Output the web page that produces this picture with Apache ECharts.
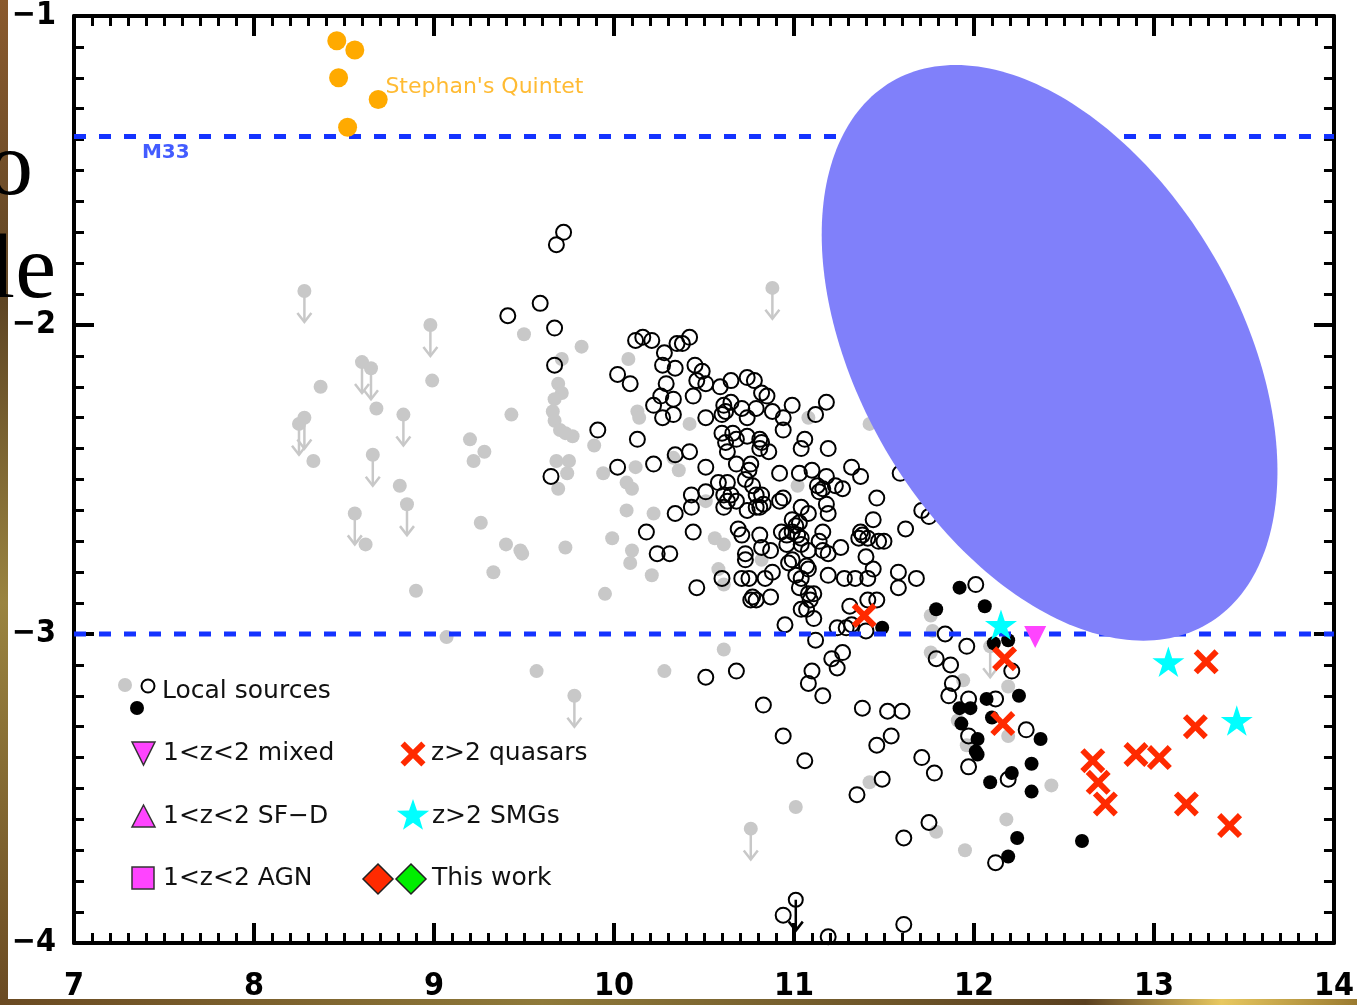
<!DOCTYPE html>
<html>
<head>
<meta charset="utf-8">
<script src="https://cdn.jsdelivr.net/npm/echarts@6/dist/echarts.min.js"></script>
<style>
  html, body { margin: 0; padding: 0; background: #ffffff; }
  #chart { width: 1357px; height: 1005px; }
</style>
</head>
<body>
<div id="chart"></div>
<script>
// ---- axis ranges and ticks ----
const xRange = [7, 14];
const yRange = [-4, -1];

// ---- reference levels (horizontal dashed lines) ----
const m33Level = -1.39;
const lowLevel = -3.0;

// ---- local sources: grey detections ----
const localGrey = [
  [9.50,-2.03],[9.82,-2.07],[9.71,-2.11],[9.69,-2.19],[9.71,-2.22],[9.67,-2.24],[9.66,-2.28],[9.67,-2.31],
  [9.70,-2.34],[9.73,-2.35],[9.77,-2.36],[8.37,-2.20],[8.99,-2.18],[8.68,-2.27],[9.43,-2.29],[9.20,-2.37],
  [9.28,-2.41],[9.22,-2.44],[9.89,-2.39],[8.33,-2.44],[9.68,-2.44],[9.75,-2.44],[9.74,-2.48],[9.69,-2.53],
  [9.94,-2.48],[8.81,-2.52],[9.26,-2.64],[9.99,-2.69],[8.62,-2.71],[9.40,-2.71],[9.48,-2.73],[9.49,-2.74],
  [9.73,-2.72],[9.33,-2.80],[8.90,-2.86],[9.95,-2.87],
  [10.08,-2.11],[10.13,-2.28],[10.14,-2.30],[10.42,-2.32],[10.33,-2.43],[10.07,-2.51],[10.10,-2.53],[10.12,-2.46],
  [10.36,-2.47],[10.07,-2.60],[10.22,-2.61],[10.51,-2.57],[10.10,-2.73],[10.09,-2.77],[10.21,-2.81],[10.56,-2.69],
  [10.61,-2.71],[10.58,-2.79],[10.61,-2.84],[10.82,-2.76],[11.02,-2.52],[11.08,-2.30],[11.42,-2.32],
  [10.61,-3.05],[10.28,-3.12],[11.42,-3.48],[11.01,-3.56],[11.79,-3.64],[11.95,-3.70],[11.76,-2.94],[11.77,-2.99],
  [11.76,-3.06],[11.94,-3.15],[12.19,-3.17],[11.91,-3.28],[11.96,-3.36],[12.19,-3.33],[12.43,-3.49],[12.18,-3.60],
  [9.07,-3.01],[9.57,-3.12]
];

// ---- local sources: grey upper limits ----
const localGreyLimits = [
  [8.28,-1.89],[8.98,-2.00],[8.60,-2.12],[8.65,-2.14],[8.25,-2.32],[8.28,-2.30],[8.83,-2.29],[8.66,-2.42],
  [8.85,-2.58],[8.56,-2.61],[10.88,-1.88],[9.78,-3.20],[10.76,-3.63],[12.09,-3.04]
];

// ---- local sources: open circles ----
const localOpen = [
  [9.72,-1.70],[9.68,-1.74],[9.59,-1.93],[9.41,-1.97],[9.67,-2.01],[9.67,-2.13],[10.02,-2.16],[9.91,-2.34],[10.02,-2.46],[9.65,-2.49],
  [10.12,-2.05],[10.16,-2.04],[10.21,-2.05],[10.35,-2.06],[10.38,-2.06],[10.42,-2.04],[10.28,-2.09],[10.27,-2.13],[10.34,-2.14],
  [10.09,-2.19],[10.45,-2.13],[10.49,-2.15],[10.46,-2.18],[10.51,-2.19],[10.29,-2.19],[10.26,-2.23],[10.22,-2.26],[10.33,-2.24],
  [10.33,-2.29],[10.27,-2.30],[10.44,-2.23],
  [10.59,-2.20],[10.65,-2.18],[10.74,-2.17],[10.78,-2.18],[10.82,-2.22],[10.85,-2.23],[10.61,-2.26],[10.62,-2.28],[10.65,-2.25],
  [10.60,-2.29],[10.71,-2.27],[10.74,-2.30],[10.79,-2.27],[10.88,-2.28],[10.94,-2.30],[10.94,-2.34],[10.99,-2.26],[11.18,-2.25],[11.12,-2.29],
  [10.13,-2.37],[10.51,-2.30],[10.60,-2.35],[10.66,-2.35],[10.68,-2.37],[10.74,-2.36],[10.62,-2.38],[10.63,-2.41],[10.81,-2.37],
  [10.82,-2.38],[10.81,-2.40],[10.86,-2.41],[11.06,-2.37],[11.04,-2.40],[11.19,-2.40],
  [10.22,-2.45],[10.34,-2.42],[10.42,-2.41],[10.51,-2.46],[10.68,-2.45],[10.76,-2.45],[10.75,-2.47],[10.92,-2.48],[11.03,-2.48],
  [11.10,-2.47],[11.18,-2.49],[11.32,-2.46],[11.37,-2.49],[11.59,-2.48],
  [10.58,-2.51],[10.63,-2.51],[10.73,-2.50],[10.77,-2.52],[11.13,-2.52],[11.16,-2.53],[11.14,-2.54],[11.23,-2.52],[11.27,-2.53],
  [10.43,-2.55],[10.51,-2.54],[10.61,-2.55],[10.65,-2.55],[10.63,-2.57],[10.68,-2.57],[10.79,-2.55],[10.82,-2.55],[10.83,-2.58],
  [10.79,-2.59],[10.81,-2.59],[10.92,-2.57],[10.94,-2.56],[11.04,-2.59],[11.18,-2.58],[11.46,-2.56],[10.61,-2.59],[10.43,-2.59],
  [10.34,-2.61],[10.74,-2.60],[11.08,-2.61],[11.19,-2.61],[11.44,-2.63],[10.99,-2.63],[11.01,-2.65],[11.03,-2.64],[10.99,-2.67],[11.02,-2.68],
  [10.18,-2.67],[10.44,-2.67],[10.69,-2.66],[10.71,-2.68],[10.93,-2.67],[10.96,-2.68],[10.81,-2.68],[11.04,-2.69],[11.16,-2.67],
  [11.37,-2.67],[11.38,-2.68],[11.41,-2.69],[11.36,-2.69],[11.47,-2.70],[11.50,-2.70],[11.62,-2.66],
  [10.24,-2.74],[10.31,-2.74],[10.82,-2.72],[10.87,-2.73],[10.96,-2.71],[11.04,-2.71],[11.08,-2.73],[11.14,-2.70],[11.16,-2.73],
  [11.26,-2.72],[10.73,-2.74],[10.73,-2.76],[10.99,-2.76],[10.97,-2.77],[11.07,-2.78],[11.08,-2.79],[11.19,-2.74],[11.40,-2.75],[11.44,-2.79],
  [10.60,-2.82],[10.71,-2.82],[10.75,-2.82],[10.84,-2.82],[10.88,-2.80],[11.01,-2.81],[11.04,-2.82],[11.19,-2.81],[11.28,-2.82],
  [11.34,-2.82],[11.41,-2.82],[11.58,-2.80],[11.58,-2.85],
  [10.46,-2.85],[10.77,-2.88],[10.76,-2.89],[10.79,-2.89],[10.87,-2.88],[11.03,-2.85],[11.08,-2.87],[11.11,-2.87],[11.09,-2.89],
  [11.04,-2.92],[11.07,-2.92],[11.31,-2.91],[11.41,-2.89],[11.46,-2.89],
  [10.95,-2.97],[11.11,-2.95],[11.24,-2.98],[11.29,-2.98],[11.32,-2.97],
  [12.01,-2.84],[11.12,-3.02],[11.40,-2.99],[11.84,-3.00],[11.96,-3.04],[11.27,-3.06],[11.21,-3.08],[11.24,-3.11],[11.79,-3.08],
  [11.87,-3.10],[10.51,-3.14],[10.68,-3.12],[11.10,-3.12],[11.08,-3.16],[11.16,-3.20],[11.88,-3.16],[11.86,-3.20],[10.83,-3.23],
  [11.38,-3.24],[11.52,-3.25],[11.60,-3.25],[11.97,-3.21],
  [10.94,-3.33],[11.54,-3.33],[11.46,-3.36],[11.97,-3.33],[11.06,-3.41],[11.71,-3.40],[11.78,-3.45],[11.97,-3.43],[11.49,-3.47],
  [11.35,-3.52],[11.75,-3.61],[11.61,-3.66],[12.12,-3.74],[10.94,-3.91],[11.61,-3.94],[11.19,-3.98],
  [11.71,-2.60],[11.75,-2.62],[11.68,-2.82],[12.12,-3.21],[12.21,-3.12],[12.29,-3.31],[12.19,-3.47]
];

// ---- local sources: open-circle upper limit ----
const localOpenLimits = [[11.01,-3.86]];

// ---- local sources: filled black ----
const localBlack = [
  [11.92,-2.85],[11.79,-2.92],[12.06,-2.91],[11.49,-2.98],[12.11,-3.03],[12.19,-3.02],[12.25,-3.20],[12.07,-3.21],
  [11.92,-3.24],[11.98,-3.24],[12.10,-3.27],[11.93,-3.29],[12.02,-3.34],[12.37,-3.34],[12.01,-3.38],[12.02,-3.39],
  [12.32,-3.42],[12.09,-3.48],[12.21,-3.45],[12.32,-3.51],[12.24,-3.66],[12.19,-3.72],[12.60,-3.67]
];

// ---- high-redshift samples ----
const quasars = [
  [11.39,-2.94],[12.17,-3.08],[12.16,-3.29],[13.29,-3.09],[13.23,-3.30],[12.66,-3.41],[12.90,-3.39],[13.03,-3.40],
  [12.69,-3.48],[12.73,-3.55],[13.18,-3.55],[13.42,-3.62]
];
const smgs = [[12.15,-2.97],[13.08,-3.09],[13.46,-3.28]];
const mixed = [[12.34,-3.01]];
const stephansQuintet = [[8.46,-1.08],[8.56,-1.11],[8.47,-1.20],[8.69,-1.27],[8.52,-1.36]];

// ---- shaded ellipse: centre and conjugate semi-axes (data units) ----
const ellipseCentre = [12.42, -2.09];
const ellipseAxisU = [0.876, -0.878];
const ellipseAxisV = [-0.914, -0.311];

// length of upper-limit arrows (dex)
const arrowDex = 0.1;

const crossPath = 'path://M0,4 L4,0 L12,8 L20,0 L24,4 L16,12 L24,20 L20,24 L12,16 L4,24 L0,20 L8,12 Z';
const starPath = 'path://M50,0 L61.2,34.5 L97.6,34.5 L68.2,55.9 L79.4,90.5 L50,69.1 L20.6,90.5 L31.8,55.9 L2.4,34.5 L38.8,34.5 Z';

const tickFont = '"DejaVu Sans Condensed", "DejaVu Sans", sans-serif';
const textFont = '"DejaVu Sans", sans-serif';

function limitRenderer(arrowColor, circleStyle) {
  return function (params, api) {
    const p = api.coord([api.value(0), api.value(1)]);
    const tip = api.coord([api.value(0), api.value(1) - arrowDex]);
    return {
      type: 'group',
      children: [
        { type: 'line', shape: { x1: p[0], y1: p[1], x2: tip[0], y2: tip[1] },
          style: { stroke: arrowColor, lineWidth: 2.5 } },
        { type: 'polyline', shape: { points: [[tip[0] - 7, tip[1] - 9], [tip[0], tip[1]], [tip[0] + 7, tip[1] - 9]] },
          style: { stroke: arrowColor, lineWidth: 2.5, fill: null } },
        { type: 'circle', shape: { cx: p[0], cy: p[1], r: 7 }, style: circleStyle }
      ]
    };
  };
}

function axisCommon(showLabel) {
  return {
    axisLine: { show: true, onZero: false, lineStyle: { color: '#000', width: 4 } },
    axisTick: { show: true, inside: true, length: 20, lineStyle: { color: '#000', width: 4 } },
    minorTick: { show: true, splitNumber: 10, length: 10, lineStyle: { color: '#000', width: 3 } },
    splitLine: { show: false },
    minorSplitLine: { show: false },
    axisLabel: { show: showLabel }
  };
}

// ---- legend drawing helpers (pixel layout) ----
function crossPoints(cx, cy, s) {
  const raw = [[0,4],[4,0],[12,8],[20,0],[24,4],[16,12],[24,20],[20,24],[12,16],[4,24],[0,20],[8,12]];
  return raw.map(p => [cx + (p[0] - 12) * s / 24, cy + (p[1] - 12) * s / 24]);
}
function starPoints(cx, cy, R) {
  const pts = [];
  for (let i = 0; i < 10; i++) {
    const r = i % 2 === 0 ? R : R * 0.4;
    const a = -Math.PI / 2 + i * Math.PI / 5;
    pts.push([cx + r * Math.cos(a), cy + r * Math.sin(a)]);
  }
  return pts;
}
function legendText(txt, x, y) {
  return { type: 'text', x: x, y: y, z: 100,
    style: { text: txt, font: '25px ' + textFont, fill: '#111',
      textAlign: 'left', align: 'left', textVerticalAlign: 'middle', verticalAlign: 'middle' } };
}
function diamond(cx, cy, h) { return [[cx, cy - h], [cx + h, cy], [cx, cy + h], [cx - h, cy]]; }

const legendGraphics = [
  { type: 'circle', z: 100, shape: { cx: 125, cy: 685, r: 7 }, style: { fill: '#c8c8c8' } },
  { type: 'circle', z: 100, shape: { cx: 148, cy: 686, r: 6.5 }, style: { fill: null, stroke: '#000', lineWidth: 2 } },
  { type: 'circle', z: 100, shape: { cx: 137, cy: 708, r: 7 }, style: { fill: '#000' } },
  legendText('Local sources', 162, 691),
  { type: 'polygon', z: 100, shape: { points: [[132, 742], [155, 742], [143.5, 765]] }, style: { fill: '#ff44ff', stroke: '#333', lineWidth: 1.5 } },
  legendText('1<z<2 mixed', 163, 753),
  { type: 'polygon', z: 100, shape: { points: [[132, 827], [155, 827], [143.5, 805]] }, style: { fill: '#ff44ff', stroke: '#333', lineWidth: 1.5 } },
  legendText('1<z<2 SF\u2212D', 163, 816),
  { type: 'rect', z: 100, shape: { x: 132, y: 867, width: 22, height: 22 }, style: { fill: '#ff44ff', stroke: '#333', lineWidth: 1.5 } },
  legendText('1<z<2 AGN', 163, 878),
  { type: 'polygon', z: 100, shape: { points: crossPoints(413, 754, 25) }, style: { fill: '#ff2a00' } },
  legendText('z>2 quasars', 431, 753),
  { type: 'polygon', z: 100, shape: { points: starPoints(413, 816, 17) }, style: { fill: '#00ffff' } },
  legendText('z>2 SMGs', 432, 816),
  { type: 'polygon', z: 100, shape: { points: diamond(378, 879, 15) }, style: { fill: '#ff2a00', stroke: '#222', lineWidth: 1.5 } },
  { type: 'polygon', z: 100, shape: { points: diamond(411, 879, 15) }, style: { fill: '#00ee00', stroke: '#222', lineWidth: 1.5 } },
  legendText('This work', 432, 878)
];

// ---- surrounding slide fragments ----
const frameGraphics = [
  { type: 'rect', z: 0, shape: { x: 0, y: 0, width: 8, height: 1005 },
    style: { fill: new echarts.graphic.LinearGradient(0, 0, 0, 1, [
      { offset: 0, color: '#8a5a2e' }, { offset: 0.3, color: '#5e4524' },
      { offset: 0.6, color: '#9a8440' }, { offset: 1, color: '#6a4a22' }]) } },
  { type: 'rect', z: 0, shape: { x: 0, y: 999, width: 1357, height: 6 },
    style: { fill: new echarts.graphic.LinearGradient(0, 0, 1, 0, [
      { offset: 0, color: '#6a4a22' }, { offset: 0.4, color: '#8f7a3a' },
      { offset: 0.8, color: '#5a4020' }, { offset: 0.9, color: '#e8c860' }, { offset: 1, color: '#9a7a30' }]) } },
  { type: 'text', z: 100, x: 33, y: 216,
    style: { text: 'o', font: '92px "Liberation Serif", "DejaVu Serif", serif', fill: '#000',
      textAlign: 'right', align: 'right', textVerticalAlign: 'bottom', verticalAlign: 'bottom' } },
  { type: 'text', z: 100, x: 56, y: 319,
    style: { text: 'le', font: '92px "Liberation Serif", "DejaVu Serif", serif', fill: '#000',
      textAlign: 'right', align: 'right', textVerticalAlign: 'bottom', verticalAlign: 'bottom' } }
];

const chart = echarts.init(document.getElementById('chart'), null, { renderer: 'canvas' });

const option = {
  backgroundColor: '#ffffff',
  animation: false,
  grid: { left: 74, right: 21, top: 13, bottom: 62, containLabel: false },
  xAxis: [
    Object.assign({ type: 'value', min: xRange[0], max: xRange[1], interval: 1, position: 'bottom' }, axisCommon(true),
      { axisLabel: { show: true, color: '#000', fontSize: 32, fontWeight: 'bold', fontFamily: tickFont, margin: 28 } }),
    Object.assign({ type: 'value', min: xRange[0], max: xRange[1], interval: 1, position: 'top' }, axisCommon(false))
  ],
  yAxis: [
    Object.assign({ type: 'value', min: yRange[0], max: yRange[1], interval: 1, position: 'left' }, axisCommon(true),
      { axisLabel: { show: true, color: '#000', fontSize: 32, fontWeight: 'bold', fontFamily: tickFont, margin: 18,
        padding: [8, 0, 0, 0],
        formatter: v => (v < 0 ? '\u2212' : '') + Math.abs(v) } }),
    Object.assign({ type: 'value', min: yRange[0], max: yRange[1], interval: 1, position: 'right' }, axisCommon(false))
  ],
  series: [
    { type: 'scatter', name: 'local grey', z: 2, data: localGrey, symbol: 'circle', symbolSize: 14,
      itemStyle: { color: '#c8c8c8', opacity: 1 }, silent: true },
    { type: 'custom', name: 'local grey limits', z: 2, data: localGreyLimits,
      renderItem: limitRenderer('#c8c8c8', { fill: '#c8c8c8' }), silent: true },
    { type: 'scatter', name: 'local open', z: 3, data: localOpen, symbol: 'circle', symbolSize: 15,
      itemStyle: { color: 'rgba(0,0,0,0)', borderColor: '#000', borderWidth: 2, opacity: 1 }, silent: true },
    { type: 'custom', name: 'local open limits', z: 3, data: localOpenLimits,
      renderItem: limitRenderer('#000', { fill: null, stroke: '#000', lineWidth: 2 }), silent: true },
    { type: 'scatter', name: 'local black', z: 3, data: localBlack, symbol: 'circle', symbolSize: 14,
      itemStyle: { color: '#000', opacity: 1 }, silent: true },
    { type: 'line', name: 'M33', z: 4, data: [[xRange[0], m33Level], [xRange[1], m33Level]], symbol: 'none',
      lineStyle: { color: '#1433ff', width: 5, type: [12, 13] }, silent: true },
    { type: 'line', name: 'low level', z: 4, data: [[xRange[0], lowLevel], [xRange[1], lowLevel]], symbol: 'none',
      lineStyle: { color: '#1433ff', width: 5, type: [12, 13] }, silent: true },
    { type: 'custom', name: 'ellipse', z: 5, data: [ellipseCentre], silent: true,
      renderItem: function (params, api) {
        const pts = [];
        for (let i = 0; i < 240; i++) {
          const t = i / 240 * Math.PI * 2;
          pts.push(api.coord([
            ellipseCentre[0] + ellipseAxisU[0] * Math.cos(t) + ellipseAxisV[0] * Math.sin(t),
            ellipseCentre[1] + ellipseAxisU[1] * Math.cos(t) + ellipseAxisV[1] * Math.sin(t)]));
        }
        return { type: 'polygon', shape: { points: pts }, style: { fill: '#8080fa' } };
      } },
    { type: 'scatter', name: 'z>2 quasars', z: 6, data: quasars, symbol: crossPath, symbolSize: 25,
      symbolKeepAspect: true, itemStyle: { color: '#ff2a00', opacity: 1 }, silent: true },
    { type: 'scatter', name: 'z>2 SMGs', z: 6, data: smgs, symbol: starPath, symbolSize: 32,
      symbolKeepAspect: true, itemStyle: { color: '#00ffff', opacity: 1 }, silent: true },
    { type: 'scatter', name: '1<z<2 mixed', z: 6, data: mixed, symbol: 'triangle', symbolRotate: 180, symbolSize: 22,
      itemStyle: { color: '#ff44ff', opacity: 1 }, silent: true },
    { type: 'scatter', name: "Stephan's Quintet", z: 6, data: stephansQuintet, symbol: 'circle', symbolSize: 19,
      itemStyle: { color: '#ffaa00', opacity: 1 }, silent: true },
    { type: 'scatter', name: 'annotations', z: 7, symbolSize: 0, silent: true,
      data: [
        { value: [7.51, m33Level], label: { show: true, position: 'bottom', distance: 6, formatter: 'M33',
          color: '#1433ff', fontSize: 20, fontWeight: 'bold', fontFamily: textFont } },
        { value: [8.73, -1.23], label: { show: true, position: 'right', distance: 0, formatter: "Stephan's Quintet",
          color: '#ffaa00', fontSize: 22, fontFamily: textFont } }
      ] }
  ],
  graphic: frameGraphics.concat(legendGraphics)
};

chart.setOption(option);
</script>
</body>
</html>
